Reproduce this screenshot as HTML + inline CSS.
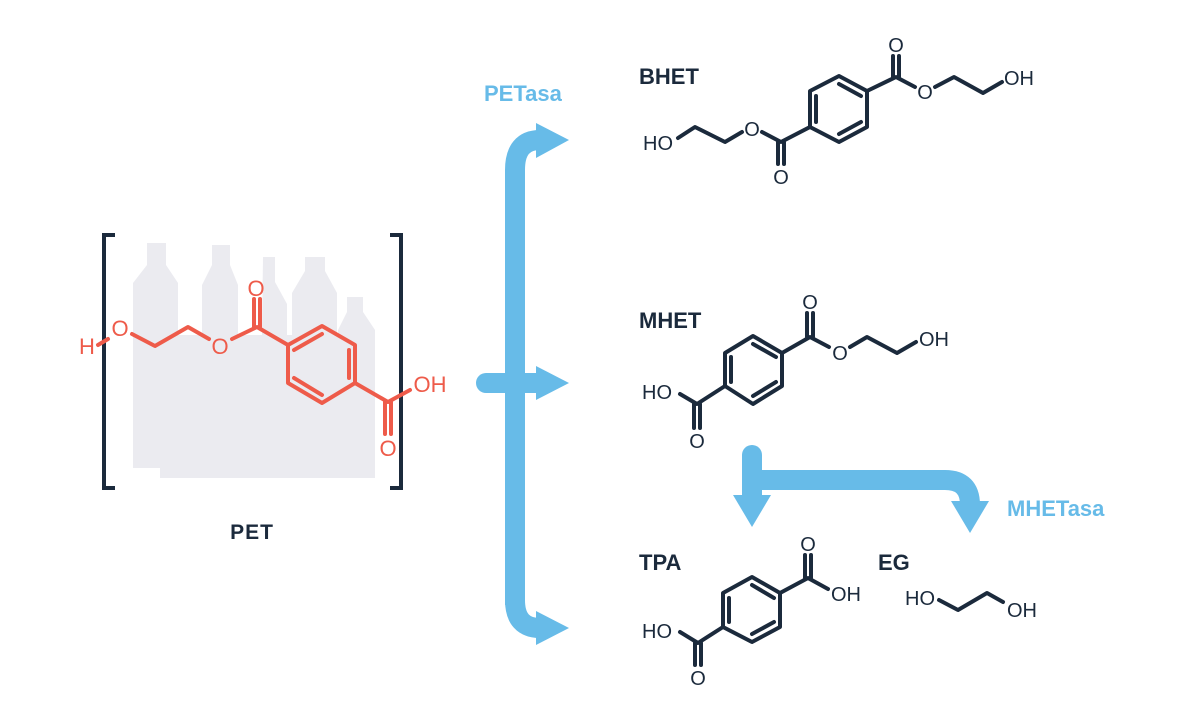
<!DOCTYPE html>
<html><head><meta charset="utf-8"><style>
html,body{margin:0;padding:0;background:#fff}
svg text{font-family:"Liberation Sans",sans-serif}
</style></head><body>
<svg width="1200" height="717" viewBox="0 0 1200 717" xmlns="http://www.w3.org/2000/svg">
<!-- bottles -->
<g fill="#ebebf0">
<path d="M147 243 h19 v22 l12 18 v185 h-45 v-185 l14 -18z"/>
<path d="M212 245 h18 v20 l8 20 v185 h-36 v-185 l10 -20z"/>
<path d="M263 257 h12 v25 l12 22 v170 h-27z"/>
<path d="M305 257 h20 v14 l12 22 v180 h-45 v-180 l13 -22z"/>
<path d="M347 297 h16 v15 l12 18 v145 h-37 v-145 l9 -18z"/>
<rect x="133" y="335" width="242" height="133"/>
<rect x="160" y="430" width="215" height="48"/>
</g>
<!-- brackets -->
<g fill="none" stroke="#1b2a3c" stroke-width="4">
<path d="M115 235 H104 V488 H115"/>
<path d="M390 235 H401 V488 H390"/>
</g>
<!-- PET molecule -->
<g fill="none" stroke="#ee5b4a" stroke-width="4" stroke-linejoin="round" stroke-linecap="round">
<path d="M98 345 L108 339"/>
<path d="M132 334 L155 346 L188 327 L209 339"/>
<path d="M232 339 L257 327 L288 345"/>
<path d="M254 327 V299 M260 327 V299"/>
<path d="M288 345 L322 326 L355 345 L355 383 L322 403 L288 383 Z"/>
<path d="M294 350 L322 334 M349 350 V378 M294 378 L322 395"/>
<path d="M355 383 L388 402 L410 390"/>
<path d="M385 402 V434 M391 402 V434"/>
</g>
<g fill="#ee5b4a" font-size="22" text-anchor="middle">
<text x="87" y="354">H</text>
<text x="120" y="336">O</text>
<text x="220" y="354">O</text>
<text x="256" y="296">O</text>
<text x="430" y="392">OH</text>
<text x="388" y="456">O</text>
</g>
<text x="252" y="539" font-size="21" font-weight="bold" fill="#1b2a3c" text-anchor="middle" letter-spacing="1">PET</text>

<!-- blue arrows -->
<g fill="none" stroke="#67bbe8" stroke-width="20">
<path d="M515 605 V170 Q515 140 540 140"/>
<path d="M515 600 Q515 628 540 628"/>
<path d="M486 383 H540" stroke-linecap="round"/>
<path d="M752 455 V500" stroke-linecap="round"/>
<path d="M752 480 H945 Q970 480 970 505"/>
</g>
<g fill="#67bbe8">
<polygon points="536,123 569,140 536,158"/>
<polygon points="536,366 569,383 536,400"/>
<polygon points="536,611 569,628 536,645"/>
<polygon points="733,495 771,495 752,527"/>
<polygon points="951,501 989,501 970,533"/>
</g>
<g fill="#67bbe8" font-size="22" font-weight="bold">
<text x="484" y="101">PETasa</text>
<text x="1007" y="516">MHETasa</text>
</g>

<!-- dark molecules -->
<g fill="none" stroke="#1b2a3c" stroke-width="4" stroke-linejoin="round" stroke-linecap="round">
<path d="M839 76 L867 91 L867 127 L839 142 L810 127 L810 91 Z"/>
<path d="M839 84 L861 96 M861 122 L839 134 M816 96 V122"/>
<path d="M867 91 L896 77 L915 87 M935 87 L954 77 L983 93 L1002 82"/>
<path d="M893 77 V56 M899 77 V56"/>
<path d="M810 127 L781 142 L762 132 M742 132 L725 142 L695 127 L678 138"/>
<path d="M778 142 V164 M784 142 V164"/>
<path d="M753 336 L782 353 L782 386 L753 404 L725 386 L725 353 Z"/>
<path d="M753 344 L776 357 M776 382 L753 396 M731 357 V382"/>
<path d="M782 353 L810 337 L829 347 M850 347 L867 337 L897 353 L916 342"/>
<path d="M807 337 V313 M813 337 V313"/>
<path d="M725 386 L697 404 L680 394"/>
<path d="M694 404 V428 M700 404 V428"/>
<path d="M752 577 L780 593 L780 627 L752 642 L723 627 L723 593 Z"/>
<path d="M752 585 L774 598 M774 622 L752 634 M729 598 V622"/>
<path d="M780 593 L808 578 L828 589"/>
<path d="M805 578 V555 M811 578 V555"/>
<path d="M723 627 L698 643 L680 632"/>
<path d="M695 643 V665 M701 643 V665"/>
<path d="M939 600 L958 610 L987 593 L1003 602"/>
</g>
<g fill="#1b2a3c" font-size="20" text-anchor="middle">
<text x="896" y="52">O</text>
<text x="925" y="99">O</text>
<text x="1019" y="85">OH</text>
<text x="752" y="136">O</text>
<text x="658" y="150">HO</text>
<text x="781" y="184">O</text>
<text x="810" y="309">O</text>
<text x="840" y="360">O</text>
<text x="934" y="346">OH</text>
<text x="657" y="399">HO</text>
<text x="697" y="448">O</text>
<text x="808" y="551">O</text>
<text x="846" y="601">OH</text>
<text x="657" y="638">HO</text>
<text x="698" y="685">O</text>
<text x="920" y="605">HO</text>
<text x="1022" y="617">OH</text>
</g>
<g fill="#1b2a3c" font-size="22" font-weight="bold">
<text x="639" y="84">BHET</text>
<text x="639" y="328">MHET</text>
<text x="639" y="570">TPA</text>
<text x="878" y="570">EG</text>
</g>
</svg>
</body></html>
